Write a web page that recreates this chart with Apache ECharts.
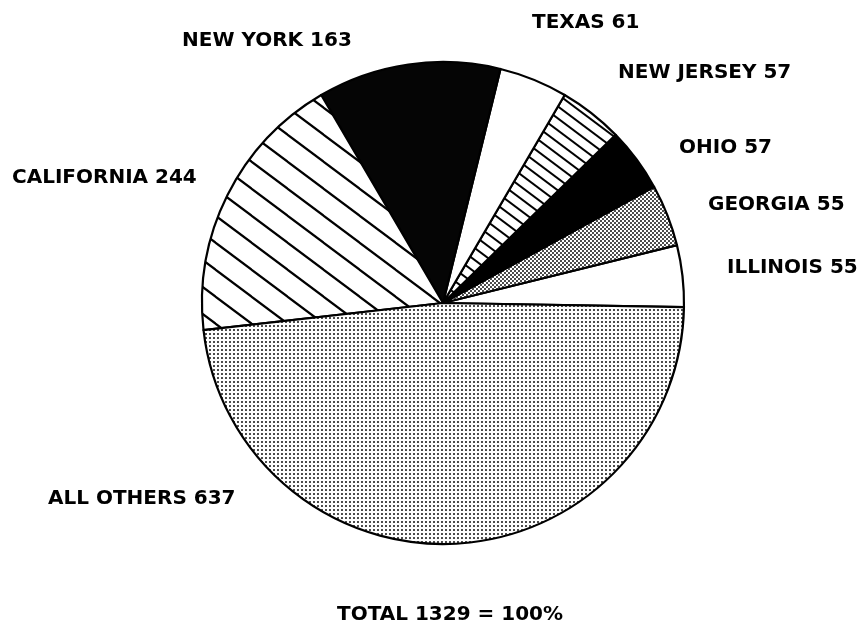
<!DOCTYPE html>
<html>
<head>
<meta charset="utf-8">
<script src="https://cdn.jsdelivr.net/npm/echarts@6/dist/echarts.min.js"></script>
<style>
  html, body { margin: 0; padding: 0; background: #fff; }
  #pie { width: 860px; height: 625px; }
</style>
</head>
<body>
<div id="pie"></div>
<script>
// states, counter-clockwise from 3 o'clock
var states = ['ILLINOIS', 'GEORGIA', 'OHIO', 'NEW JERSEY', 'TEXAS', 'NEW YORK', 'CALIFORNIA', 'ALL OTHERS'];
var counts = [55, 55, 57, 57, 61, 163, 244, 637];

// where each label sits (left edge, vertical middle)
var labelX = [727, 708, 679, 618, 532, 182, 12, 48];
var labelY = [268, 205, 148, 73, 23, 41, 178, 499];

// --- fill patterns, like the old plotter shading ---
const hatch = (w, h, lw) => {
  var c = document.createElement('canvas');
  c.width = w; c.height = h;
  var ctx = c.getContext('2d');
  ctx.fillStyle = '#fff';
  ctx.fillRect(0, 0, w, h);
  ctx.strokeStyle = '#000';
  ctx.lineWidth = lw;
  // lines 3x - 4y = k, slope 3/4 going down to the right
  [-3 * w, 0, 3 * w].forEach((k) => {
    ctx.beginPath();
    ctx.moveTo(-w, (3 * -w - k) / 4);
    ctx.lineTo(2 * w, (3 * 2 * w - k) / 4);
    ctx.stroke();
  });
  return c;
};

const dots = (size, pts, r) => {
  var c = document.createElement('canvas');
  c.width = size; c.height = size;
  var ctx = c.getContext('2d');
  ctx.fillStyle = '#fff';
  ctx.fillRect(0, 0, size, size);
  ctx.fillStyle = '#000';
  pts.forEach((p) => {
    ctx.beginPath();
    ctx.arc(p[0], p[1], r, 0, Math.PI * 2);
    ctx.fill();
  });
  return c;
};

var fills = [
  '#fff',
  { image: dots(4, [[1, 1], [3, 3]], 0.95), repeat: 'repeat' },
  '#000',
  { image: hatch(16, 12, 2), repeat: 'repeat' },
  '#fff',
  '#050505',
  { image: hatch(36, 27, 2.2), repeat: 'repeat' },
  { image: dots(4, [[2, 2]], 0.95), repeat: 'repeat' }
];

var total = counts.reduce((a, b) => a + b, 0);

var chart = echarts.init(document.getElementById('pie'));

var option = {
  animation: false,
  textStyle: { fontFamily: 'DejaVu Sans' },
  title: {
    text: 'TOTAL ' + total + ' = 100%',
    left: 332,
    top: 600,
    textStyle: { fontFamily: 'DejaVu Sans', fontSize: 20, fontWeight: 'bold', color: '#000' }
  },
  series: [
    {
      type: 'pie',
      center: [443, 303],
      radius: 241,
      startAngle: -1,
      clockwise: false,
      avoidLabelOverlap: false,
      itemStyle: {
        borderColor: '#000',
        borderWidth: 2.2
      },
      label: {
        show: true,
        formatter: '{b} {c}',
        fontFamily: 'DejaVu Sans',
        fontSize: 20,
        fontWeight: 'bold',
        color: '#000'
      },
      labelLine: { show: false },
      labelLayout: (params) => {
        return {
          x: labelX[params.dataIndex],
          y: labelY[params.dataIndex],
          align: 'left',
          verticalAlign: 'middle'
        };
      },
      emphasis: { disabled: true },
      data: states.map((s, i) => {
        return { name: s, value: counts[i], itemStyle: { color: fills[i] } };
      })
    }
  ]
};

chart.setOption(option);
</script>
</body>
</html>
